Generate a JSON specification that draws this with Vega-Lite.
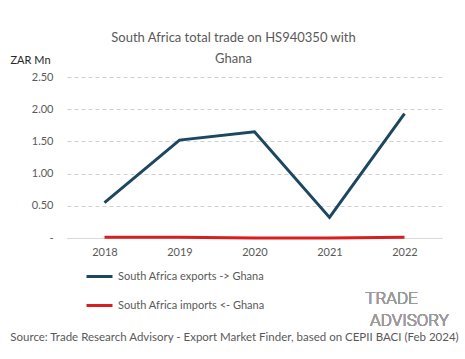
{
  "$schema": "https://vega.github.io/schema/vega-lite/v6.json",
  "width": 375,
  "height": 161,
  "autosize": {"type": "none"},
  "padding": {"left": 67, "top": 77, "right": 23, "bottom": 121},
  "background": "white",
  "config": {
    "font": "Lato",
    "view": {"stroke": null},
    "axisY": {
      "labelOverlap": false,
      "labelFontSize": 11,
      "labelColor": "#595959",
      "labelPadding": 14,
      "ticks": false,
      "domain": false,
      "grid": true,
      "gridDash": [4, 3],
      "gridColor": "#d0d0d0"
    }
  },
  "title": {
    "text": ["South Africa total trade on HS940350 with", "Ghana"],
    "anchor": "middle",
    "frame": "group",
    "dx": -21,
    "offset": -12,
    "fontSize": 13,
    "fontWeight": "normal",
    "color": "#595959",
    "lineHeight": 21
  },
  "data": {
    "values": [
      {"year": "2018", "series": "South Africa exports -> Ghana", "value": 0.55},
      {"year": "2019", "series": "South Africa exports -> Ghana", "value": 1.52},
      {"year": "2020", "series": "South Africa exports -> Ghana", "value": 1.65},
      {"year": "2021", "series": "South Africa exports -> Ghana", "value": 0.32},
      {"year": "2022", "series": "South Africa exports -> Ghana", "value": 1.93},
      {"year": "2018", "series": "South Africa imports <- Ghana", "value": 0.01},
      {"year": "2019", "series": "South Africa imports <- Ghana", "value": 0.01},
      {"year": "2020", "series": "South Africa imports <- Ghana", "value": 0.0},
      {"year": "2021", "series": "South Africa imports <- Ghana", "value": 0.0},
      {"year": "2022", "series": "South Africa imports <- Ghana", "value": 0.01}
    ]
  },
  "layer": [
    {
      "mark": {"type": "line", "strokeWidth": 3},
      "encoding": {
        "x": {
          "field": "year",
          "type": "ordinal",
          "scale": {"type": "point", "padding": 0.5},
          "axis": {
            "title": "Source: Trade Research Advisory - Export Market Finder, based on CEPII BACI (Feb 2024)",
            "titleX": 167,
            "titleY": 99,
            "titleAnchor": "middle",
            "titleAlign": "center",
            "titleBaseline": "middle",
            "titleFontSize": 11.5,
            "titleFontWeight": "normal",
            "titleColor": "#595959",
            "labelAngle": 0,
            "labelFontSize": 11,
            "labelColor": "#595959",
            "labelPadding": 8,
            "ticks": false,
            "domainColor": "#d9d9d9",
            "grid": false
          }
        },
        "y": {
          "field": "value",
          "type": "quantitative",
          "scale": {"domain": [0, 2.5], "nice": false, "zero": true},
          "axis": {
            "values": [0, 0.5, 1, 1.5, 2, 2.5],
            "labelExpr": "datum.value == 0 ? '-' : format(datum.value, '.2f')",
            "title": "ZAR Mn",
            "titleAngle": 0,
            "titleAlign": "left",
            "titleBaseline": "middle",
            "titleX": -57,
            "titleY": -17,
            "titleFontSize": 11,
            "titleFontWeight": "normal",
            "titleColor": "#262626"
          }
        },
        "color": {
          "field": "series",
          "type": "nominal",
          "scale": {"range": ["#1d4760", "#d81e1e"]},
          "legend": {
            "title": null,
            "orient": "none",
            "legendX": 18,
            "legendY": 185,
            "direction": "vertical",
            "symbolType": "stroke",
            "symbolSize": 676,
            "symbolStrokeWidth": 3,
            "labelFontSize": 11,
            "labelColor": "#595959",
            "rowPadding": 8,
            "labelOffset": 4
          }
        }
      }
    },
    {
      "mark": {"type": "text", "font": "Roboto", "fontWeight": 300, "fontSize": 17, "color": "#9a9a9a", "align": "center", "baseline": "middle", "dx": -13},
      "encoding": {
        "x": {"datum": "2022"},
        "y": {"datum": -0.95, "axis": {"values": [0, 0.5, 1, 1.5, 2, 2.5], "labelExpr": "datum.value == 0 ? '-' : format(datum.value, '.2f')", "title": "ZAR Mn"}},
        "text": {"value": "TRADE"}
      }
    },
    {
      "mark": {"type": "text", "font": "Roboto", "fontWeight": 300, "fontSize": 17, "color": "#9a9a9a", "align": "center", "baseline": "middle", "dx": 5},
      "encoding": {
        "x": {"datum": "2022"},
        "y": {"datum": -1.29, "axis": {"values": [0, 0.5, 1, 1.5, 2, 2.5], "labelExpr": "datum.value == 0 ? '-' : format(datum.value, '.2f')", "title": "ZAR Mn"}},
        "text": {"value": "ADVISORY"}
      }
    }
  ]
}
